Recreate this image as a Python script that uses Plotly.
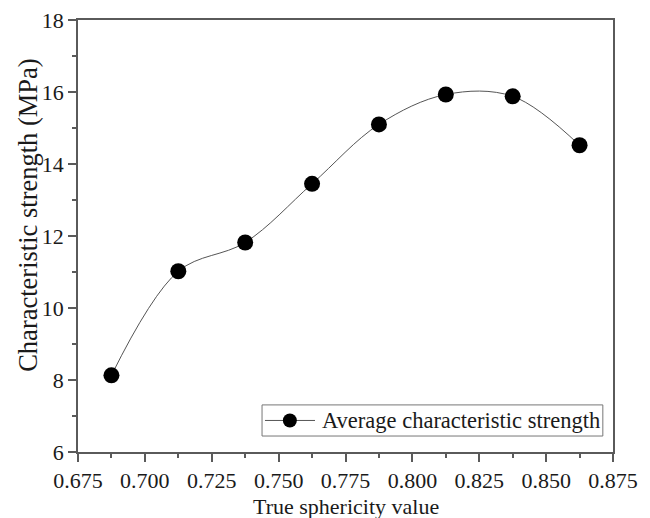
import plotly.graph_objects as go

sphericity = [0.6875, 0.7125, 0.7375, 0.7625, 0.7875, 0.8125, 0.8375, 0.8625]
strength = [8.13, 11.02, 11.82, 13.45, 15.1, 15.93, 15.88, 14.52]

x_ticks = [0.675, 0.700, 0.725, 0.750, 0.775, 0.800, 0.825, 0.850, 0.875]
x_labels = ["0.675", "0.700", "0.725", "0.750", "0.775", "0.800", "0.825", "0.850", "0.875"]
y_ticks = [6, 8, 10, 12, 14, 16, 18]

x_title = "True sphericity value"
y_title = "Characteristic strength (MPa)"
series_name = "Average characteristic strength"

font_family = "Liberation Serif"
axis_color = "#5a5a5a"
text_color = "#1a1a1a"
line_color = "#555555"

fig = go.Figure()
fig.add_trace(go.Scatter(
    x=sphericity, y=strength, mode="lines+markers",
    name=series_name, showlegend=False,
    line=dict(shape="spline", smoothing=1.0, color=line_color, width=1),
    marker=dict(size=16, color="black"),
))

# legend box drawn in paper coordinates (lower right of the plot)
lg_x0, lg_x1, lg_y0, lg_y1 = 0.344, 0.981, 0.037, 0.109
lg_mid = (lg_y0 + lg_y1) / 2
shapes = [
    dict(type="rect", xref="paper", yref="paper", x0=lg_x0, x1=lg_x1, y0=lg_y0, y1=lg_y1,
         line=dict(color="#777777", width=1), fillcolor="white", layer="above"),
    dict(type="line", xref="paper", yref="paper", x0=0.3495, x1=0.443, y0=lg_mid, y1=lg_mid,
         line=dict(color=line_color, width=1), layer="above"),
    dict(type="circle", xref="paper", yref="paper", xsizemode="pixel", ysizemode="pixel",
         xanchor=0.396, yanchor=lg_mid, x0=-7, x1=7, y0=-7, y1=7,
         line=dict(color="black", width=0), fillcolor="black", layer="above"),
]

fig.update_layout(
    width=650, height=518,
    margin=dict(l=70, r=45, t=12, b=74, autoexpand=False),
    paper_bgcolor="white", plot_bgcolor="white",
    font=dict(family=font_family, size=22, color=text_color),
    showlegend=False,
    shapes=shapes,
    xaxis=dict(
        range=[0.675, 0.875], tickvals=x_ticks, ticktext=x_labels,
        ticks="outside", ticklen=8, tickwidth=1.5, tickcolor=axis_color,
        showline=True, linecolor=axis_color, linewidth=1.7, mirror=True,
        showgrid=False, zeroline=False, automargin=False, ticklabeloverflow="allow",
        minor=dict(ticks="outside", ticklen=4, tickwidth=1.5, tickcolor=axis_color, dtick=0.0125, tick0=0.675),
        tickfont=dict(size=22),
    ),
    yaxis=dict(
        range=[6, 18], tickvals=y_ticks,
        ticks="outside", ticklen=8, tickwidth=1.5, tickcolor=axis_color,
        showline=True, linecolor=axis_color, linewidth=1.7, mirror=True,
        showgrid=False, zeroline=False, automargin=False, ticklabeloverflow="allow",
        minor=dict(ticks="outside", ticklen=4, tickwidth=1.5, tickcolor=axis_color, dtick=1, tick0=6),
        tickfont=dict(size=22),
    ),
    annotations=[
        dict(text=x_title, xref="paper", yref="paper", x=0.5, y=-0.125,
             xanchor="center", yanchor="middle", showarrow=False,
             font=dict(size=22, family=font_family, color=text_color)),
        dict(text=y_title, xref="paper", yref="paper", x=-0.0935, y=0.549,
             xanchor="center", yanchor="middle", showarrow=False, textangle=-90,
             font=dict(size=26.5, family=font_family, color=text_color)),
        dict(text=series_name, xref="paper", yref="paper", x=0.4523, y=lg_mid,
             xanchor="left", yanchor="middle", showarrow=False,
             font=dict(size=22.5, family=font_family, color=text_color)),
    ],
)

fig.write_html("out.html")
